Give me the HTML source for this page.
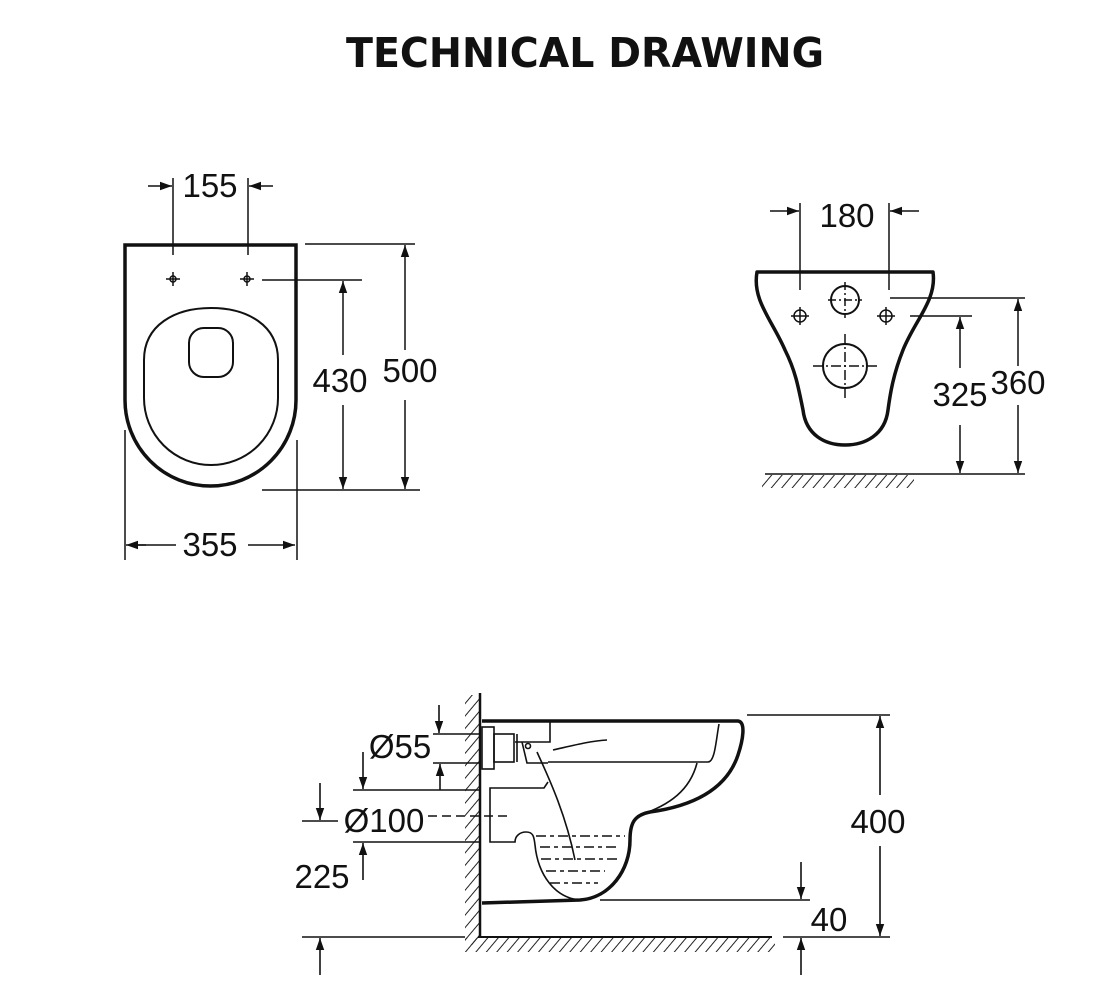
<!DOCTYPE html>
<html><head><style>
html,body{margin:0;padding:0;background:#fff;}
svg{display:block;}
text{font-family:"Liberation Sans",sans-serif;fill:#111;}
</style></head><body>
<svg width="1100" height="1000" viewBox="0 0 1100 1000" xmlns="http://www.w3.org/2000/svg">
<defs>
<marker id="a" viewBox="0 0 10 10" refX="10" refY="5" markerWidth="12" markerHeight="12" markerUnits="userSpaceOnUse" orient="auto"><path d="M0,1.5 L10,5 L0,8.5 Z" fill="#111"/></marker>
<pattern id="h" width="8" height="8" patternUnits="userSpaceOnUse" patternTransform="rotate(40)"><line x1="0" y1="0" x2="0" y2="8" stroke="#222" stroke-width="2"/></pattern>
</defs>
<text x="585" y="67" text-anchor="middle" font-size="41" font-weight="bold" style="font-family:'DejaVu Sans','Liberation Sans',sans-serif" textLength="478" lengthAdjust="spacingAndGlyphs">TECHNICAL DRAWING</text>

<g stroke="#111" fill="none">
<path d="M125,245 H296 V400 A85.5,86 0 0 1 125,400 Z" stroke-width="3.5"/>
<path d="M144,360 C144,325 175,308 211,308 C247,308 278,325 278,360 V398 A67,67 0 0 1 144,398 Z" stroke-width="2"/>
<rect x="189" y="328" width="44" height="49" rx="15" stroke-width="2"/>
<g stroke-width="1.5"><circle cx="173" cy="279" r="3"/><circle cx="247" cy="279" r="3"/>
<line x1="166" y1="279" x2="180" y2="279"/><line x1="173" y1="272" x2="173" y2="286"/>
<line x1="240" y1="279" x2="254" y2="279"/><line x1="247" y1="272" x2="247" y2="286"/></g>
<g stroke-width="1.5">
<line x1="173" y1="178" x2="173" y2="255"/><line x1="248" y1="178" x2="248" y2="255"/>
<line x1="148" y1="186" x2="172" y2="186" marker-end="url(#a)"/><line x1="273" y1="186" x2="249" y2="186" marker-end="url(#a)"/>
<line x1="262" y1="280" x2="362" y2="280"/><line x1="262" y1="490" x2="420" y2="490"/>
<line x1="305" y1="244" x2="415" y2="244"/>
<line x1="343" y1="355" x2="343" y2="281" marker-end="url(#a)"/><line x1="343" y1="405" x2="343" y2="489" marker-end="url(#a)"/>
<line x1="405" y1="350" x2="405" y2="245" marker-end="url(#a)"/><line x1="405" y1="400" x2="405" y2="489" marker-end="url(#a)"/>
<line x1="125" y1="430" x2="125" y2="560"/><line x1="297" y1="440" x2="297" y2="560"/>
<line x1="146" y1="545" x2="126" y2="545" marker-end="url(#a)"/><line x1="130" y1="545" x2="176" y2="545"/>
<line x1="248" y1="545" x2="295" y2="545" marker-end="url(#a)"/>
</g>

<path d="M757,272 H933 C937,300 915,320 903,350 C893,375 890,395 888,410 C885,435 865,445 845,445 C825,445 806,435 803,410 C798,385 795,370 785,350 C772,320 752,300 757,272 Z" stroke-width="3.5" stroke-linejoin="round"/>
<g stroke-width="1.5">
<circle cx="800" cy="316" r="6"/><circle cx="886" cy="316" r="6"/>
<line x1="791" y1="316" x2="809" y2="316"/><line x1="800" y1="307" x2="800" y2="325"/>
<line x1="877" y1="316" x2="895" y2="316"/><line x1="886" y1="307" x2="886" y2="325"/>
<circle cx="845" cy="300" r="14" stroke-width="2"/><circle cx="845" cy="366" r="22" stroke-width="2"/>
<line x1="828" y1="300" x2="862" y2="300" stroke-dasharray="8,3,2,3"/><line x1="845" y1="282" x2="845" y2="318" stroke-dasharray="8,3,2,3"/>
<line x1="813" y1="366" x2="877" y2="366" stroke-dasharray="10,3,2,3"/><line x1="845" y1="334" x2="845" y2="398" stroke-dasharray="10,3,2,3"/>
<line x1="800" y1="203" x2="800" y2="290"/><line x1="889" y1="203" x2="889" y2="290"/>
<line x1="770" y1="211" x2="799" y2="211" marker-end="url(#a)"/><line x1="919" y1="211" x2="890" y2="211" marker-end="url(#a)"/>
<line x1="890" y1="298" x2="1025" y2="298"/><line x1="910" y1="316" x2="972" y2="316"/>
<line x1="765" y1="474" x2="1025" y2="474"/>
<line x1="1018" y1="366" x2="1018" y2="299" marker-end="url(#a)"/><line x1="1018" y1="405" x2="1018" y2="473" marker-end="url(#a)"/>
<line x1="960" y1="368" x2="960" y2="317" marker-end="url(#a)"/><line x1="960" y1="425" x2="960" y2="473" marker-end="url(#a)"/>
</g>
<rect x="762" y="475" width="152" height="13" fill="url(#h)" stroke="none"/>

<rect x="465" y="695" width="14" height="250" fill="url(#h)" stroke="none"/>
<rect x="465" y="938" width="310" height="14" fill="url(#h)" stroke="none"/>
<line x1="480" y1="693" x2="480" y2="938" stroke-width="2.5"/>
<line x1="478" y1="937" x2="772" y2="937" stroke-width="2"/>
<path d="M482,721 H738 C746,722 743,740 738,755 C728,785 700,805 650,812 C635,815 630,822 630,840 C630,870 610,898 580,900 L482,903" stroke-width="3.5" stroke-linejoin="round"/>
<g stroke-width="1.6">
<path d="M548,762 H708 C715,762 716,740 719,724"/>
<path d="M697,763 C690,790 670,805 640,815"/>
<path d="M550,722 V742 H515"/>
<path d="M553,750 C575,745 590,741 607,740"/>
<path d="M522,742 L527,763 H548"/>
<circle cx="528" cy="746" r="2.5"/>
<path d="M537,752 C545,770 565,810 575,860"/>
<rect x="482" y="727" width="12" height="42"/>
<rect x="494" y="734" width="20" height="28"/>
<line x1="517" y1="734" x2="517" y2="762"/>
<path d="M548,782 L544,788 H490 V842 H515 C515,836 520,832 526,832 C533,832 534,836 535,845 C538,875 555,898 580,900"/>
<g stroke-dasharray="10,4,4,4"><line x1="536" y1="836" x2="625" y2="836"/><line x1="540" y1="847" x2="620" y2="847"/><line x1="541" y1="859" x2="617" y2="859"/><line x1="546" y1="871" x2="605" y2="871"/><line x1="550" y1="883" x2="598" y2="883"/></g>
<line x1="747" y1="715" x2="890" y2="715"/><line x1="783" y1="937" x2="890" y2="937"/>
<line x1="880" y1="795" x2="880" y2="716" marker-end="url(#a)"/><line x1="880" y1="846" x2="880" y2="936" marker-end="url(#a)"/>
<line x1="600" y1="900" x2="810" y2="900"/>
<line x1="801" y1="862" x2="801" y2="899" marker-end="url(#a)"/><line x1="801" y1="975" x2="801" y2="938" marker-end="url(#a)"/>
<line x1="433" y1="734" x2="480" y2="734"/><line x1="433" y1="763" x2="480" y2="763"/>
<line x1="439" y1="705" x2="439" y2="733" marker-end="url(#a)"/><line x1="440" y1="790" x2="440" y2="764" marker-end="url(#a)"/>
<line x1="353" y1="790" x2="480" y2="790"/><line x1="353" y1="842" x2="480" y2="842"/>
<line x1="363" y1="752" x2="363" y2="789" marker-end="url(#a)"/><line x1="363" y1="880" x2="363" y2="843" marker-end="url(#a)"/>
<line x1="302" y1="821" x2="338" y2="821"/>
<line x1="320" y1="783" x2="320" y2="820" marker-end="url(#a)"/>
<line x1="428" y1="816" x2="510" y2="816" stroke-dasharray="9,5"/>
<line x1="302" y1="937" x2="465" y2="937"/>
<line x1="320" y1="975" x2="320" y2="938" marker-end="url(#a)"/>
</g>
</g>
<g font-size="33">
<text x="210" y="197" text-anchor="middle">155</text>
<text x="340" y="392" text-anchor="middle">430</text>
<text x="410" y="382" text-anchor="middle">500</text>
<text x="210" y="556" text-anchor="middle">355</text>
<text x="847" y="227" text-anchor="middle">180</text>
<text x="1018" y="394" text-anchor="middle">360</text>
<text x="960" y="406" text-anchor="middle">325</text>
<text x="878" y="833" text-anchor="middle">400</text>
<text x="829" y="931" text-anchor="middle">40</text>
<text x="400" y="758" text-anchor="middle">Ø55</text>
<text x="384" y="832" text-anchor="middle">Ø100</text>
<text x="322" y="888" text-anchor="middle">225</text>
</g>
</svg>
</body></html>
